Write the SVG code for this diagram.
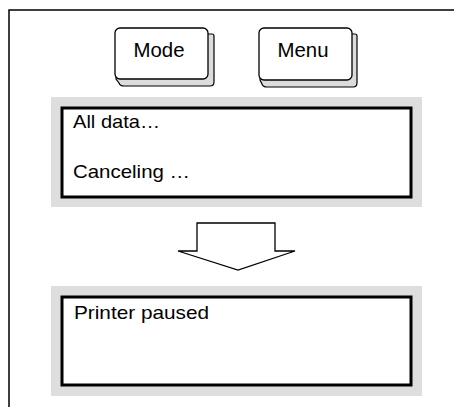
<svg xmlns="http://www.w3.org/2000/svg" width="454" height="407" viewBox="0 0 454 407">
<style>
text{font-family:"Liberation Sans",Arial,sans-serif;fill:#000}
.key{font-size:20px;text-anchor:middle}
.lcd{font-size:19px}
.face{fill:#fff;stroke:#000;stroke-width:1.3}
.side{fill:#dcdcdc;stroke:#000;stroke-width:1.2}
.panel{fill:#dedede}
.screen{fill:#fff;stroke:#000;stroke-width:3}
</style>
<rect width="454" height="407" fill="#fff"/>
<g id="frame">
<path d="M9,407 V10 H454" fill="none" stroke="#000" stroke-width="1.5"/>
</g>
<g id="key-mode">
<path class="side" d="M118,34 L212,34 Q214,34 214,36 L214,82 Q214,86 210,86 L124,86 Q120,86 119,83 L116,79 Z"/>
<rect class="face" x="115" y="28" width="93" height="51" rx="5"/>
<text class="key" x="159" y="57" textLength="51" lengthAdjust="spacingAndGlyphs">Mode</text>
</g>
<g id="key-menu">
<path class="side" d="M262,34 L355,34 Q357,34 357,36 L357,83 Q357,87 353,87 L267,87 Q263,87 262,84 L260,80 Z"/>
<rect class="face" x="259" y="28" width="93" height="52" rx="5"/>
<text class="key" x="303" y="57" textLength="51" lengthAdjust="spacingAndGlyphs">Menu</text>
</g>
<g id="display-1">
<rect class="panel" x="51" y="97" width="371" height="110"/>
<rect class="screen" x="62" y="108" width="349" height="89"/>
<text class="lcd" x="73" y="128" textLength="87" lengthAdjust="spacingAndGlyphs">All data…</text>
<text class="lcd" x="73" y="178" textLength="117" lengthAdjust="spacingAndGlyphs">Canceling …</text>
</g>
<g id="connectors">
<polygon points="197,223 275,223 275,251 295,251 238,270 178,251 197,251" fill="#fff" stroke="#000" stroke-width="1.3" stroke-linejoin="miter"/>
</g>
<g id="display-2">
<rect class="panel" x="51" y="286" width="371" height="110"/>
<rect class="screen" x="62" y="297" width="349" height="88"/>
<text class="lcd" x="74" y="319" textLength="135" lengthAdjust="spacingAndGlyphs">Printer paused</text>
</g>
</svg>
